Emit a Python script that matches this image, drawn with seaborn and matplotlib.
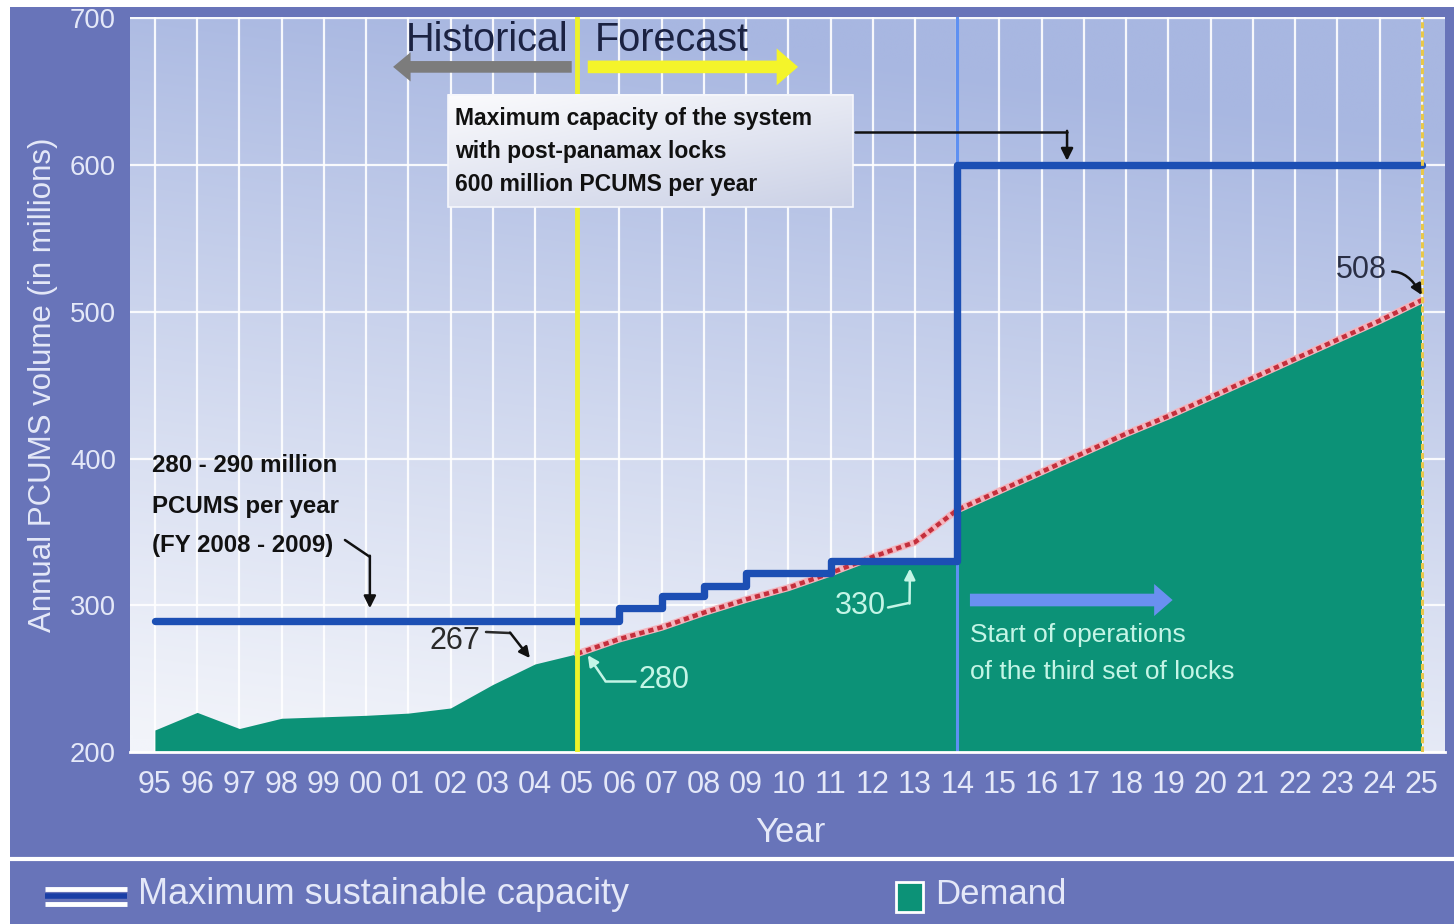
import numpy as np
import matplotlib
matplotlib.use("Agg")
import matplotlib.pyplot as plt
import seaborn as sns
from matplotlib import font_manager
from matplotlib.patches import Rectangle, Polygon
from matplotlib.lines import Line2D
from matplotlib.colors import to_rgb

# ---------------- data ----------------
years = ["95", "96", "97", "98", "99", "00", "01", "02", "03", "04", "05",
         "06", "07", "08", "09", "10", "11", "12", "13", "14", "15",
         "16", "17", "18", "19", "20", "21", "22", "23", "24", "25"]

# historical demand, 1995-2005 (million PC/UMS)
hist_demand = [215, 227, 216, 223, 224, 225, 226.5, 230, 246, 260, 267]
# forecast demand, 2005-2025
forecast_demand = [267, 277, 285, 295, 304, 312, 322, 333, 343, 365, 378,
                   391, 404, 417, 429, 442, 455, 468, 481, 494, 508]

# maximum sustainable capacity, step changes (year it starts, level)
cap_years = ["95", "06", "07", "08", "09", "11", "14", "25"]
cap_values = [289, 298, 306, 313, 322, 330, 600, 600]

y_ticks = [200, 300, 400, 500, 600, 700]

# ---------------- styling ----------------
W, H = 1454, 924
FRAME = "#6874b9"
GREEN = "#0c9277"
CAP_BLUE = "#1c4fb4"
LIGHT_TXT = "#e4e8f8"
MINT = "#c4f5e6"
NAVY = "#1b2242"

sns.set_style("white")
installed = {f.name for f in font_manager.fontManager.ttflist}
BASE = "Liberation Sans" if "Liberation Sans" in installed else "DejaVu Sans"
NARROW = "Liberation Sans Narrow" if "Liberation Sans Narrow" in installed else None
COND = NARROW or BASE
k = 1.0 if NARROW else 0.8
plt.rcParams["font.family"] = [BASE, "DejaVu Sans"]

idx = np.arange(len(years))
pos = {y: i for i, y in enumerate(years)}
demand = np.array(hist_demand + forecast_demand[1:], dtype=float)
fc_idx = idx[pos["05"]:]
cap_idx = [pos[y] for y in cap_years]

fig = plt.figure(figsize=(W / 100, H / 100), dpi=100, facecolor="white")
fig.add_artist(Rectangle((10 / W, 0), 1 - 10 / W, (H - 7) / H,
                         transform=fig.transFigure, facecolor=FRAME,
                         edgecolor="none", zorder=-5))

ax = fig.add_axes([130 / W, (H - 752) / H, (1445 - 130) / W, (752 - 17) / H])
ax.set_autoscale_on(False)
ax.set_xlim(-0.59, 30.55)
ax.set_ylim(200, 701)

# soft blue background, lighter toward the lower left
yy, xx = np.mgrid[0:1:200j, 0:1:200j]
t = np.clip(0.95 * yy + 0.22 * xx - 0.02, 0, 1) ** 1.1
c0, c1 = np.array(to_rgb("#f2f4fa")), np.array(to_rgb("#a8b7e1"))
bg = c0 * (1 - t[..., None]) + c1 * t[..., None]
ax.imshow(bg, extent=(0, 1, 0, 1), transform=ax.transAxes, origin="lower",
          aspect="auto", zorder=0, interpolation="bilinear")

# grid
ax.set_xticks(idx)
ax.set_xticklabels(years)
ax.set_yticks(y_ticks)
ax.set_yticklabels([str(v) for v in y_ticks])
ax.set_axisbelow(True)
ax.grid(True, color="white", lw=1.6, alpha=0.9, zorder=0.5)
for s in ["top", "right", "left"]:
    ax.spines[s].set_visible(False)
ax.spines["bottom"].set_color("white")
ax.spines["bottom"].set_linewidth(2)

# demand area, clipped under the capacity steps
fill = ax.fill_between(idx, 200, demand, color=GREEN, lw=0, zorder=2)
verts = []
for i in range(len(cap_idx) - 1):
    verts += [(cap_idx[i], cap_values[i]), (cap_idx[i + 1], cap_values[i])]
verts += [(cap_idx[-1], 150), (cap_idx[0], 150)]
clip = Polygon(verts, closed=True, transform=ax.transData)
fill.set_clip_path(clip)

# forecast demand (dashed)
sns.lineplot(x=fc_idx, y=forecast_demand, color="#f3b4bd", lw=5,
             ax=ax, zorder=3, legend=False)
sns.lineplot(x=fc_idx, y=forecast_demand, color="#c42f3c", lw=3.2,
             linestyle=(0, (1.2, 0.9)), ax=ax, zorder=3.1, legend=False)

# reference verticals
ax.axvline(pos["14"], color="#5e90f2", lw=2.2, zorder=2.5)
ax.axvline(pos["05"], color="#eef22a", lw=3.5, zorder=5)
ax.axvline(pos["25"], color="#e8c84a", lw=2.2, linestyle=(0, (2, 1)), zorder=5)

# capacity
sns.lineplot(x=cap_idx, y=cap_values, drawstyle="steps-post", color=CAP_BLUE,
             lw=5.3, ax=ax, zorder=4, legend=False)

ax.set_xlabel("")
ax.set_ylabel("")
ax.tick_params(axis="x", colors="white", length=10, width=1.3, pad=3,
               labelsize=26 * k + (1.2 if not NARROW else 0), labelcolor=LIGHT_TXT)
ax.tick_params(axis="y", colors="white", length=5, width=1.3, pad=5,
               labelsize=22 * k + (2.2 if not NARROW else 0), labelcolor=LIGHT_TXT)
for lab in ax.get_xticklabels() + ax.get_yticklabels():
    lab.set_fontfamily(COND)

# Historical / Forecast header
ax.text(9.78, 685, "Historical", ha="right", va="center", fontsize=28.5,
        color=NAVY, zorder=6)
ax.text(10.42, 685, "Forecast", ha="left", va="center", fontsize=28.5,
        color=NAVY, zorder=6)
ax.annotate("", xy=(5.64, 667), xytext=(9.87, 667),
            arrowprops=dict(arrowstyle="simple,head_length=0.9,head_width=1.5,tail_width=0.6",
                            mutation_scale=14, color="#7c7c7c", lw=0,
                            shrinkA=0, shrinkB=0), zorder=6)
ax.annotate("", xy=(15.23, 667), xytext=(10.25, 667),
            arrowprops=dict(arrowstyle="simple,head_length=1.1,head_width=1.9,tail_width=0.65",
                            mutation_scale=14, color="#f4f42a", lw=0,
                            shrinkA=0, shrinkB=0), zorder=6)

# capacity call-out box
bx0, bx1, by0, by1 = 6.94, 16.53, 571.5, 648
gy, gx = np.mgrid[0:1:50j, 0:1:50j]
gt = np.clip(0.6 * (1 - gy) + 0.4 * gx, 0, 1)
g0, g1 = np.array(to_rgb("#fbfbfd")), np.array(to_rgb("#cbd1e6"))
box_img = g0 * (1 - gt[..., None]) + g1 * gt[..., None]
ax.imshow(box_img, extent=(bx0, bx1, by0, by1), origin="lower",
          aspect="auto", zorder=5.5, interpolation="bilinear")
ax.add_patch(Rectangle((bx0, by0), bx1 - bx0, by1 - by0, facecolor="none",
                       edgecolor="#f6f7fc", lw=1.2, zorder=5.6))
for yv, line in zip([632, 609.5, 587],
                    ["Maximum capacity of the system",
                     "with post-panamax locks",
                     "600 million PCUMS per year"]):
    ax.text(7.1, yv, line, ha="left", va="center", fontsize=20 * k + 0.5,
            fontweight="bold", fontfamily=COND, color="#111111", zorder=6)
ax.plot([16.58, 21.6], [622.6, 622.6], color="#111111", lw=1.8, zorder=6)
ax.annotate("", xy=(21.6, 603), xytext=(21.6, 623.4),
            arrowprops=dict(arrowstyle="-|>", mutation_scale=18, color="#111111",
                            lw=1.8, shrinkA=0, shrinkB=0), zorder=6)

# capacity note on the left
for yv, line in zip([395.6, 367, 341],
                    ["280 - 290 million", "PCUMS per year", "(FY 2008 - 2009)"]):
    ax.text(-0.07, yv, line, ha="left", va="center", fontsize=21 * k + 0.5,
            fontweight="bold", fontfamily=COND, color="#111111", zorder=6)
ax.plot([4.5, 5.09], [344.5, 333], color="#111111", lw=1.8, zorder=6)
ax.annotate("", xy=(5.09, 298), xytext=(5.09, 333.8),
            arrowprops=dict(arrowstyle="-|>", mutation_scale=18, color="#111111",
                            lw=1.8, shrinkA=0, shrinkB=0), zorder=6)

# value labels
ax.text(7.7, 276, "267", ha="right", va="center", fontsize=22, color="#2a2a2a", zorder=6)
ax.plot([7.84, 8.41], [281.8, 281.1], color="#2a2a2a", lw=1.8, zorder=6)
ax.annotate("", xy=(8.88, 264), xytext=(8.41, 281.4),
            arrowprops=dict(arrowstyle="-|>", mutation_scale=16, color="#111111",
                            lw=1.8, shrinkA=0, shrinkB=0), zorder=6)

ax.text(11.45, 249, "280", ha="left", va="center", fontsize=22, color=MINT, zorder=6)
ax.plot([11.37, 10.65], [248.4, 248.4], color=MINT, lw=1.8, zorder=6)
ax.annotate("", xy=(10.25, 266), xytext=(10.66, 248.7),
            arrowprops=dict(arrowstyle="-|>", mutation_scale=16, color=MINT,
                            lw=1.8, shrinkA=0, shrinkB=0), zorder=6)

ax.text(17.3, 299.5, "330", ha="right", va="center", fontsize=22, color=MINT, zorder=6)
ax.plot([17.36, 17.86], [298.5, 301.6], color=MINT, lw=1.8, zorder=6)
ax.annotate("", xy=(17.88, 325), xytext=(17.87, 301.2),
            arrowprops=dict(arrowstyle="-|>", mutation_scale=16, color=MINT,
                            lw=1.8, shrinkA=0, shrinkB=0), zorder=6)

ax.text(29.17, 528.6, "508", ha="right", va="center", fontsize=22, color="#2a2f45", zorder=6)
ax.annotate("", xy=(30.0, 511.5), xytext=(29.3, 527.5),
            arrowprops=dict(arrowstyle="-|>", mutation_scale=16, color="#111111",
                            lw=1.8, shrinkA=0, shrinkB=0,
                            connectionstyle="angle3,angleA=0,angleB=-60"), zorder=6)

# third set of locks
ax.annotate("", xy=(24.1, 303.6), xytext=(19.3, 303.6),
            arrowprops=dict(arrowstyle="simple,head_length=0.95,head_width=1.65,tail_width=0.65",
                            mutation_scale=14, color="#6a90f0", lw=0,
                            shrinkA=0, shrinkB=0), zorder=6)
ax.text(19.3, 280, "Start of operations", ha="left", va="center", fontsize=19,
        color=MINT, zorder=6)
ax.text(19.3, 254.5, "of the third set of locks", ha="left", va="center",
        fontsize=19, color=MINT, zorder=6)

# axis titles
fig.text(43 / W, 1 - 385 / H, "Annual PCUMS volume (in millions)", rotation=90,
         ha="center", va="center", fontsize=22.5, color=LIGHT_TXT)
fig.text(790 / W, 1 - 833 / H, "Year", ha="center", va="center",
         fontsize=25, color=LIGHT_TXT)

# legend band
fig.add_artist(Line2D([10 / W, 1], [1 - 859 / H, 1 - 859 / H],
                      transform=fig.transFigure, color="white", lw=3))
for yp, col, lw in [(889, "white", 3.5), (904, "white", 3.5), (896, "#1a3fa6", 4)]:
    fig.add_artist(Line2D([45 / W, 127 / W], [1 - yp / H, 1 - yp / H],
                          transform=fig.transFigure, color=col, lw=lw,
                          solid_capstyle="butt"))
fig.text(138 / W, 1 - 895 / H, "Maximum sustainable capacity", ha="left",
         va="center", fontsize=26, color=LIGHT_TXT)
fig.add_artist(Rectangle((896 / W, 1 - 912 / H), 27 / W, 30 / H,
                         transform=fig.transFigure, facecolor=GREEN,
                         edgecolor="white", lw=2))
fig.text(935 / W, 1 - 895 / H, "Demand", ha="left", va="center",
         fontsize=25, color=LIGHT_TXT)

fig.savefig("out.png", dpi=100, facecolor=fig.get_facecolor())
